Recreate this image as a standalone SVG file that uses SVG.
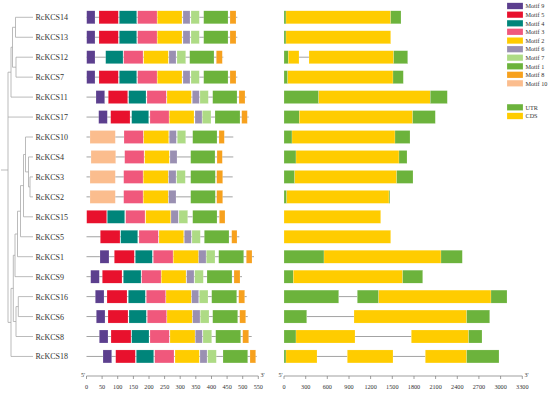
<svg xmlns="http://www.w3.org/2000/svg" width="550" height="393" viewBox="0 0 550 393">
<style>
text{font-family:"Liberation Serif","Times New Roman",serif;fill:#333}
.lb{font-size:8px}
.lg{font-size:6.2px}
.ax{font-size:6.2px;text-anchor:middle}
.t{stroke:#aaa;stroke-width:0.8;fill:none}
.bb{stroke:#999;stroke-width:0.9}
.in{stroke:#999;stroke-width:0.9}
rect{stroke:#fff;stroke-width:0.3;stroke-opacity:0.6}
.m9{fill:#5C3F8E}.m5{fill:#E8112D}.m4{fill:#00857A}.m3{fill:#F0587C}.m2{fill:#FFCC00}
.m6{fill:#9A90B2}.m7{fill:#AEDB85}.m1{fill:#6CB33C}.m8{fill:#F7A11E}.m10{fill:#FBBD8E}
.u{fill:#6CB33C}.c{fill:#FFCC00}
.axl{stroke:#777;stroke-width:0.7;fill:none}
</style>
<defs>
<g id="std">
<rect class="m9" x="86.7" y="-6.5" width="8.3" height="13"/>
<rect class="m5" x="99" y="-6.5" width="19.3" height="13"/>
<rect class="m4" x="119.3" y="-6.5" width="17.4" height="13"/>
<rect class="m3" x="137.7" y="-6.5" width="19.3" height="13"/>
<rect class="m2" x="157.3" y="-6.5" width="24.7" height="13"/>
<rect class="m6" x="183" y="-6.5" width="7" height="13"/>
<rect class="m7" x="191" y="-6.5" width="8.3" height="13"/>
<rect class="m1" x="203.7" y="-6.5" width="24.3" height="13"/>
<rect class="m8" x="230" y="-6.5" width="6" height="13"/>
</g>
</defs>

<g id="connectors">
<path class="t" d="M15.5 17.3H33M15.5 37.25H33M15.5 17.3V37.25M12.5 27.3H15.5
M16 57.2H33M16 77.15H33M16 57.2V77.15M12.5 67.2H16
M12.5 27.3V67.2M11 47.25H12.5
M11 97.1H33M11 47.25V97.1M8 72.2H11
M8 117.05H33
M25.5 137H33M28.5 156.95H33M30 176.9H33M30 196.85H33
M30 176.9V196.85M28.5 186.9H30
M28.5 156.95V186.9M25.5 171.9H28.5
M25.5 137V171.9M23.5 154.5H25.5
M23.5 216.8H33M23.5 154.5V216.8M20.5 185.6H23.5
M20.5 236.75H33M20.5 185.6V236.75M17.5 211.2H20.5
M17.5 256.7H33M17.5 211.2V256.7M15 234H17.5
M15 276.65H33M15 234V276.65M13.3 255.3H15
M18.3 296.6H33M18.3 316.55H33M18.3 296.6V316.55M16 306.6H18.3
M16 336.5H33M16 306.6V336.5M13.3 321.5H16
M13.3 255.3V321.5M11 288.4H13.3
M11 356.45H33M11 288.4V356.45M8 322.4H11
M8 72.2V322.4M1 170H8"/>
</g>

<g id="row-RcKCS14" transform="translate(0,17.3)">
<text class="lb" x="35.5" y="3">RcKCS14</text>
<line class="bb" x1="86.5" y1="0" x2="237.3" y2="0"/>
<use href="#std"/>
<rect class="u" x="284" y="-6.5" width="2" height="13"/>
<rect class="c" x="286" y="-6.5" width="104.7" height="13"/>
<rect class="u" x="390.7" y="-6.5" width="10.3" height="13"/>
</g>

<g id="row-RcKCS13" transform="translate(0,37.25)">
<text class="lb" x="35.5" y="3">RcKCS13</text>
<line class="bb" x1="86.5" y1="0" x2="237.3" y2="0"/>
<use href="#std"/>
<rect class="u" x="284" y="-6.5" width="2" height="13"/>
<rect class="c" x="286" y="-6.5" width="104.7" height="13"/>
</g>

<g id="row-RcKCS12" transform="translate(0,57.2)">
<text class="lb" x="35.5" y="3">RcKCS12</text>
<line class="bb" x1="86.5" y1="0" x2="223.3" y2="0"/>
<rect class="m9" x="86.7" y="-6.5" width="8.3" height="13"/>
<rect class="m4" x="105.7" y="-6.5" width="17.3" height="13"/>
<rect class="m3" x="123.7" y="-6.5" width="19.3" height="13"/>
<rect class="m2" x="143.7" y="-6.5" width="24.6" height="13"/>
<rect class="m6" x="169" y="-6.5" width="7" height="13"/>
<rect class="m7" x="177" y="-6.5" width="8.7" height="13"/>
<rect class="m1" x="189.7" y="-6.5" width="24.3" height="13"/>
<rect class="m8" x="216.3" y="-6.5" width="6" height="13"/>
<line class="in" x1="299" y1="0" x2="309" y2="0"/>
<rect class="u" x="284" y="-6.5" width="4.3" height="13"/>
<rect class="c" x="288.3" y="-6.5" width="10.7" height="13"/>
<rect class="c" x="309" y="-6.5" width="84.7" height="13"/>
<rect class="u" x="393.7" y="-6.5" width="14" height="13"/>
</g>

<g id="row-RcKCS7" transform="translate(0,77.15)">
<text class="lb" x="35.5" y="3">RcKCS7</text>
<line class="bb" x1="86.5" y1="0" x2="237.3" y2="0"/>
<use href="#std"/>
<rect class="u" x="284" y="-6.5" width="3.7" height="13"/>
<rect class="c" x="287.7" y="-6.5" width="105.3" height="13"/>
<rect class="u" x="393" y="-6.5" width="10.3" height="13"/>
</g>

<g id="row-RcKCS11" transform="translate(0,97.1)">
<text class="lb" x="35.5" y="3">RcKCS11</text>
<line class="bb" x1="86.5" y1="0" x2="246.3" y2="0"/>
<rect class="m9" x="96" y="-6.5" width="8.7" height="13"/>
<rect class="m5" x="108.3" y="-6.5" width="19.4" height="13"/>
<rect class="m4" x="128.7" y="-6.5" width="17.3" height="13"/>
<rect class="m3" x="147" y="-6.5" width="19.3" height="13"/>
<rect class="m2" x="167" y="-6.5" width="24.3" height="13"/>
<rect class="m6" x="192.3" y="-6.5" width="7" height="13"/>
<rect class="m7" x="200" y="-6.5" width="8.3" height="13"/>
<rect class="m1" x="212.7" y="-6.5" width="24.3" height="13"/>
<rect class="m8" x="239" y="-6.5" width="6" height="13"/>
<rect class="u" x="284" y="-6.5" width="34.7" height="13"/>
<rect class="c" x="318.7" y="-6.5" width="111.6" height="13"/>
<rect class="u" x="430.3" y="-6.5" width="17" height="13"/>
</g>

<g id="row-RcKCS17" transform="translate(0,117.05)">
<text class="lb" x="35.5" y="3">RcKCS17</text>
<line class="bb" x1="86.5" y1="0" x2="248.7" y2="0"/>
<rect class="m9" x="98.7" y="-6.5" width="8.6" height="13"/>
<rect class="m5" x="110.7" y="-6.5" width="19.3" height="13"/>
<rect class="m4" x="131.7" y="-6.5" width="17" height="13"/>
<rect class="m3" x="150" y="-6.5" width="19" height="13"/>
<rect class="m2" x="169.3" y="-6.5" width="24.7" height="13"/>
<rect class="m6" x="195" y="-6.5" width="7" height="13"/>
<rect class="m7" x="202.3" y="-6.5" width="8.7" height="13"/>
<rect class="m1" x="215" y="-6.5" width="25" height="13"/>
<rect class="m8" x="241.7" y="-6.5" width="5.6" height="13"/>
<rect class="u" x="284" y="-6.5" width="15.3" height="13"/>
<rect class="c" x="299.3" y="-6.5" width="113.4" height="13"/>
<rect class="u" x="412.7" y="-6.5" width="22.6" height="13"/>
</g>

<g id="row-RcKCS10" transform="translate(0,137)">
<text class="lb" x="35.5" y="3">RcKCS10</text>
<line class="bb" x1="86.5" y1="0" x2="233.3" y2="0"/>
<rect class="m10" x="90" y="-6.5" width="25.3" height="13"/>
<rect class="m3" x="124" y="-6.5" width="19.3" height="13"/>
<rect class="m2" x="143.7" y="-6.5" width="25" height="13"/>
<rect class="m6" x="169.3" y="-6.5" width="7" height="13"/>
<rect class="m7" x="177.3" y="-6.5" width="8.4" height="13"/>
<rect class="m1" x="192.7" y="-6.5" width="24.3" height="13"/>
<rect class="m8" x="219" y="-6.5" width="5.3" height="13"/>
<rect class="u" x="284" y="-6.5" width="8" height="13"/>
<rect class="c" x="292" y="-6.5" width="103" height="13"/>
<rect class="u" x="395" y="-6.5" width="15" height="13"/>
</g>

<g id="row-RcKCS4" transform="translate(0,156.95)">
<text class="lb" x="35.5" y="3">RcKCS4</text>
<line class="bb" x1="86.5" y1="0" x2="233.3" y2="0"/>
<rect class="m10" x="91" y="-6.5" width="24.7" height="13"/>
<rect class="m3" x="124.7" y="-6.5" width="19.3" height="13"/>
<rect class="m2" x="144.7" y="-6.5" width="24.6" height="13"/>
<rect class="m6" x="170" y="-6.5" width="7" height="13"/>
<rect class="m1" x="190.7" y="-6.5" width="24.3" height="13"/>
<rect class="m8" x="217" y="-6.5" width="5.3" height="13"/>
<rect class="u" x="284" y="-6.5" width="12" height="13"/>
<rect class="c" x="296" y="-6.5" width="103" height="13"/>
<rect class="u" x="399" y="-6.5" width="8" height="13"/>
</g>

<g id="row-RcKCS3" transform="translate(0,176.9)">
<text class="lb" x="35.5" y="3">RcKCS3</text>
<line class="bb" x1="86.5" y1="0" x2="232.7" y2="0"/>
<rect class="m10" x="90" y="-6.5" width="25.3" height="13"/>
<rect class="m3" x="123.7" y="-6.5" width="19.3" height="13"/>
<rect class="m2" x="143.3" y="-6.5" width="25" height="13"/>
<rect class="m6" x="168.7" y="-6.5" width="7.3" height="13"/>
<rect class="m7" x="176.7" y="-6.5" width="8.6" height="13"/>
<rect class="m1" x="190.7" y="-6.5" width="24.6" height="13"/>
<rect class="m8" x="216.7" y="-6.5" width="6" height="13"/>
<rect class="u" x="284" y="-6.5" width="10.7" height="13"/>
<rect class="c" x="294.7" y="-6.5" width="102" height="13"/>
<rect class="u" x="396.7" y="-6.5" width="16.3" height="13"/>
</g>

<g id="row-RcKCS2" transform="translate(0,196.85)">
<text class="lb" x="35.5" y="3">RcKCS2</text>
<line class="bb" x1="86.5" y1="0" x2="232.7" y2="0"/>
<rect class="m10" x="90" y="-6.5" width="25.3" height="13"/>
<rect class="m3" x="123.7" y="-6.5" width="19.3" height="13"/>
<rect class="m2" x="143.3" y="-6.5" width="25" height="13"/>
<rect class="m6" x="168.7" y="-6.5" width="7.3" height="13"/>
<rect class="m1" x="190.7" y="-6.5" width="24.6" height="13"/>
<rect class="m8" x="216.7" y="-6.5" width="6" height="13"/>
<rect class="u" x="284" y="-6.5" width="2.7" height="13"/>
<rect class="c" x="286.7" y="-6.5" width="102.3" height="13"/>
<rect class="u" x="389" y="-6.5" width="0.9" height="13"/>
</g>

<g id="row-RcKCS15" transform="translate(0,216.8)">
<text class="lb" x="35.5" y="3">RcKCS15</text>
<rect class="m5" x="86.7" y="-6.5" width="20" height="13"/>
<rect class="m4" x="107.3" y="-6.5" width="17.4" height="13"/>
<rect class="m3" x="125.7" y="-6.5" width="19.3" height="13"/>
<rect class="m2" x="145.7" y="-6.5" width="25" height="13"/>
<rect class="m6" x="171" y="-6.5" width="7.3" height="13"/>
<rect class="m7" x="179" y="-6.5" width="8.7" height="13"/>
<line class="bb" x1="187.7" y1="0" x2="192.7" y2="0"/>
<rect class="m1" x="192.7" y="-6.5" width="24.3" height="13"/>
<line class="bb" x1="217" y1="0" x2="219.3" y2="0"/>
<rect class="m8" x="219.3" y="-6.5" width="5.7" height="13"/>
<rect class="c" x="284" y="-6.5" width="96.7" height="13"/>
</g>

<g id="row-RcKCS5" transform="translate(0,236.75)">
<text class="lb" x="35.5" y="3">RcKCS5</text>
<line class="bb" x1="86.5" y1="0" x2="239.3" y2="0"/>
<rect class="m5" x="100.3" y="-6.5" width="19.7" height="13"/>
<rect class="m4" x="120.7" y="-6.5" width="17" height="13"/>
<rect class="m3" x="139" y="-6.5" width="19.3" height="13"/>
<rect class="m2" x="159" y="-6.5" width="24.7" height="13"/>
<rect class="m6" x="184.3" y="-6.5" width="7" height="13"/>
<rect class="m7" x="192" y="-6.5" width="8.3" height="13"/>
<rect class="m1" x="204.3" y="-6.5" width="24.7" height="13"/>
<rect class="m8" x="231.7" y="-6.5" width="5.3" height="13"/>
<rect class="c" x="284" y="-6.5" width="106.7" height="13"/>
</g>

<g id="row-RcKCS1" transform="translate(0,256.7)">
<text class="lb" x="35.5" y="3">RcKCS1</text>
<line class="bb" x1="86.5" y1="0" x2="254" y2="0"/>
<rect class="m9" x="100" y="-6.5" width="9" height="13"/>
<rect class="m5" x="114.3" y="-6.5" width="20" height="13"/>
<rect class="m4" x="135.3" y="-6.5" width="17" height="13"/>
<rect class="m3" x="153.3" y="-6.5" width="19.7" height="13"/>
<rect class="m2" x="173.3" y="-6.5" width="25.4" height="13"/>
<rect class="m6" x="198.7" y="-6.5" width="7.3" height="13"/>
<rect class="m7" x="206.3" y="-6.5" width="8.7" height="13"/>
<rect class="m1" x="218.7" y="-6.5" width="25" height="13"/>
<rect class="m8" x="246.3" y="-6.5" width="5.7" height="13"/>
<rect class="u" x="284" y="-6.5" width="40" height="13"/>
<rect class="c" x="324" y="-6.5" width="117" height="13"/>
<rect class="u" x="441" y="-6.5" width="21.3" height="13"/>
</g>

<g id="row-RcKCS9" transform="translate(0,276.65)">
<text class="lb" x="35.5" y="3">RcKCS9</text>
<line class="bb" x1="86.5" y1="0" x2="242" y2="0"/>
<rect class="m9" x="90.7" y="-6.5" width="8.6" height="13"/>
<rect class="m5" x="102.3" y="-6.5" width="19.7" height="13"/>
<rect class="m4" x="123.3" y="-6.5" width="17.7" height="13"/>
<rect class="m3" x="141.7" y="-6.5" width="19.3" height="13"/>
<rect class="m2" x="161.3" y="-6.5" width="24.7" height="13"/>
<rect class="m6" x="186.7" y="-6.5" width="7.3" height="13"/>
<rect class="m7" x="194.7" y="-6.5" width="8.6" height="13"/>
<rect class="m1" x="207" y="-6.5" width="25" height="13"/>
<rect class="m8" x="234" y="-6.5" width="6" height="13"/>
<rect class="u" x="284" y="-6.5" width="9.3" height="13"/>
<rect class="c" x="293.3" y="-6.5" width="109.4" height="13"/>
<rect class="u" x="402.7" y="-6.5" width="20" height="13"/>
</g>

<g id="row-RcKCS16" transform="translate(0,296.6)">
<text class="lb" x="35.5" y="3">RcKCS16</text>
<line class="bb" x1="86.5" y1="0" x2="246.7" y2="0"/>
<rect class="m9" x="95.3" y="-6.5" width="8.7" height="13"/>
<rect class="m5" x="107" y="-6.5" width="20" height="13"/>
<rect class="m4" x="128.3" y="-6.5" width="17" height="13"/>
<rect class="m3" x="146.3" y="-6.5" width="19.4" height="13"/>
<rect class="m2" x="166" y="-6.5" width="25.3" height="13"/>
<rect class="m6" x="191.7" y="-6.5" width="7" height="13"/>
<rect class="m7" x="199.3" y="-6.5" width="8.7" height="13"/>
<rect class="m1" x="211.7" y="-6.5" width="25" height="13"/>
<rect class="m8" x="238.7" y="-6.5" width="6" height="13"/>
<line class="in" x1="338.7" y1="0" x2="357.3" y2="0"/>
<rect class="u" x="284" y="-6.5" width="54.7" height="13"/>
<rect class="u" x="357.3" y="-6.5" width="21.4" height="13"/>
<rect class="c" x="378.7" y="-6.5" width="112.3" height="13"/>
<rect class="u" x="491" y="-6.5" width="16" height="13"/>
</g>

<g id="row-RcKCS6" transform="translate(0,316.55)">
<text class="lb" x="35.5" y="3">RcKCS6</text>
<line class="bb" x1="86.5" y1="0" x2="247.7" y2="0"/>
<rect class="m9" x="96.3" y="-6.5" width="8.7" height="13"/>
<rect class="m5" x="108" y="-6.5" width="20" height="13"/>
<rect class="m4" x="129" y="-6.5" width="17.3" height="13"/>
<rect class="m3" x="147.3" y="-6.5" width="19.4" height="13"/>
<rect class="m2" x="167" y="-6.5" width="25.3" height="13"/>
<rect class="m6" x="192.7" y="-6.5" width="7.3" height="13"/>
<rect class="m7" x="200.3" y="-6.5" width="8.7" height="13"/>
<rect class="m1" x="212.7" y="-6.5" width="25" height="13"/>
<rect class="m8" x="239.7" y="-6.5" width="6" height="13"/>
<line class="in" x1="306.7" y1="0" x2="354" y2="0"/>
<rect class="u" x="284" y="-6.5" width="22.7" height="13"/>
<rect class="c" x="354" y="-6.5" width="112.7" height="13"/>
<rect class="u" x="466.7" y="-6.5" width="23" height="13"/>
</g>

<g id="row-RcKCS8" transform="translate(0,336.5)">
<text class="lb" x="35.5" y="3">RcKCS8</text>
<line class="bb" x1="86.5" y1="0" x2="251.7" y2="0"/>
<rect class="m9" x="99.3" y="-6.5" width="8.7" height="13"/>
<rect class="m5" x="111" y="-6.5" width="20" height="13"/>
<rect class="m4" x="131.7" y="-6.5" width="17.3" height="13"/>
<rect class="m3" x="150" y="-6.5" width="19.3" height="13"/>
<rect class="m2" x="170" y="-6.5" width="25" height="13"/>
<rect class="m6" x="195.3" y="-6.5" width="7" height="13"/>
<rect class="m7" x="203" y="-6.5" width="8.7" height="13"/>
<rect class="m1" x="215.7" y="-6.5" width="25" height="13"/>
<rect class="m8" x="242.7" y="-6.5" width="6" height="13"/>
<line class="in" x1="355" y1="0" x2="411.3" y2="0"/>
<rect class="u" x="284" y="-6.5" width="12" height="13"/>
<rect class="c" x="296" y="-6.5" width="59" height="13"/>
<rect class="c" x="411.3" y="-6.5" width="57.4" height="13"/>
<rect class="u" x="468.7" y="-6.5" width="13.3" height="13"/>
</g>

<g id="row-RcKCS18" transform="translate(0,356.45)">
<text class="lb" x="35.5" y="3">RcKCS18</text>
<line class="bb" x1="86.5" y1="0" x2="256.7" y2="0"/>
<rect class="m9" x="103" y="-6.5" width="8.7" height="13"/>
<rect class="m5" x="115.7" y="-6.5" width="19.6" height="13"/>
<rect class="m4" x="136.3" y="-6.5" width="17.4" height="13"/>
<rect class="m3" x="154.7" y="-6.5" width="19.3" height="13"/>
<rect class="m2" x="175" y="-6.5" width="24.3" height="13"/>
<rect class="m6" x="200" y="-6.5" width="7" height="13"/>
<rect class="m7" x="207.7" y="-6.5" width="8.6" height="13"/>
<rect class="m1" x="223" y="-6.5" width="24.7" height="13"/>
<rect class="m8" x="250" y="-6.5" width="5.7" height="13"/>
<line class="in" x1="317" y1="0" x2="347.3" y2="0"/>
<line class="in" x1="393" y1="0" x2="425.3" y2="0"/>
<rect class="u" x="284" y="-6.5" width="2" height="13"/>
<rect class="c" x="286" y="-6.5" width="31" height="13"/>
<rect class="c" x="347.3" y="-6.5" width="45.7" height="13"/>
<rect class="c" x="425.3" y="-6.5" width="41.4" height="13"/>
<rect class="u" x="466.7" y="-6.5" width="32.3" height="13"/>
</g>

<g id="axis-motif">
<path class="axl" d="M86.5 376H258.3M86.5 376v3M102.1 376v3M117.7 376v3M133.4 376v3M149 376v3M164.6 376v3M180.2 376v3M195.8 376v3M211.5 376v3M227.1 376v3M242.7 376v3M258.3 376v3"/>
<text x="81" y="376.5" style="font-size:6px">5'</text>
<text x="260.5" y="376.5" style="font-size:6px">3'</text>
<text class="ax" x="86.5" y="389">0</text>
<text class="ax" x="102.1" y="389">50</text>
<text class="ax" x="117.7" y="389">100</text>
<text class="ax" x="133.4" y="389">150</text>
<text class="ax" x="149" y="389">200</text>
<text class="ax" x="164.6" y="389">250</text>
<text class="ax" x="180.2" y="389">300</text>
<text class="ax" x="195.8" y="389">350</text>
<text class="ax" x="211.5" y="389">400</text>
<text class="ax" x="227.1" y="389">450</text>
<text class="ax" x="242.7" y="389">500</text>
<text class="ax" x="258.3" y="389">550</text>
</g>

<g id="axis-gene">
<path class="axl" d="M284 376H522.3M284 376v3M305.7 376v3M327.3 376v3M349 376v3M370.6 376v3M392.3 376v3M414 376v3M435.6 376v3M457.3 376v3M478.9 376v3M500.6 376v3M522.3 376v3"/>
<text x="278.5" y="376.5" style="font-size:6px">5'</text>
<text x="524.5" y="376.5" style="font-size:6px">3'</text>
<text class="ax" x="284" y="389">0</text>
<text class="ax" x="305.7" y="389">300</text>
<text class="ax" x="327.3" y="389">600</text>
<text class="ax" x="349" y="389">900</text>
<text class="ax" x="370.6" y="389">1200</text>
<text class="ax" x="392.3" y="389">1500</text>
<text class="ax" x="414" y="389">1800</text>
<text class="ax" x="435.6" y="389">2100</text>
<text class="ax" x="457.3" y="389">2400</text>
<text class="ax" x="478.9" y="389">2700</text>
<text class="ax" x="500.6" y="389">3000</text>
<text class="ax" x="522.3" y="389">3300</text>
</g>

<g id="legend">
<rect class="m9" x="507" y="2.8" width="16" height="6.4"/><text class="lg" x="525.5" y="8.2">Motif 9</text>
<rect class="m5" x="507" y="11.5" width="16" height="6.4"/><text class="lg" x="525.5" y="16.9">Motif 5</text>
<rect class="m4" x="507" y="20.1" width="16" height="6.4"/><text class="lg" x="525.5" y="25.5">Motif 4</text>
<rect class="m3" x="507" y="28.6" width="16" height="6.4"/><text class="lg" x="525.5" y="34">Motif 3</text>
<rect class="m2" x="507" y="37.4" width="16" height="6.4"/><text class="lg" x="525.5" y="42.8">Motif 2</text>
<rect class="m6" x="507" y="46" width="16" height="6.4"/><text class="lg" x="525.5" y="51.4">Motif 6</text>
<rect class="m7" x="507" y="54.5" width="16" height="6.4"/><text class="lg" x="525.5" y="59.9">Motif 7</text>
<rect class="m1" x="507" y="63.1" width="16" height="6.4"/><text class="lg" x="525.5" y="68.5">Motif 1</text>
<rect class="m8" x="507" y="71.6" width="16" height="6.4"/><text class="lg" x="525.5" y="77">Motif 8</text>
<rect class="m10" x="507" y="80.1" width="16" height="6.4"/><text class="lg" x="525.5" y="85.5">Motif 10</text>
<rect class="u" x="507" y="104.1" width="16" height="6.4"/><text class="lg" x="525.5" y="109.5">UTR</text>
<rect class="c" x="507" y="112.8" width="16" height="6.4"/><text class="lg" x="525.5" y="118.2">CDS</text>
</g>
</svg>
